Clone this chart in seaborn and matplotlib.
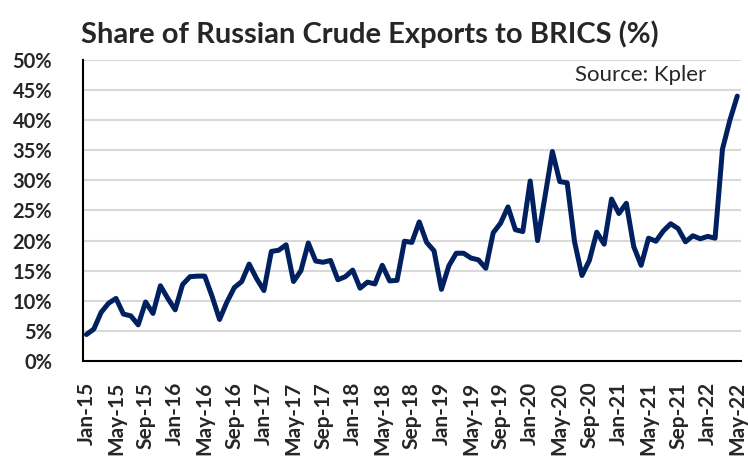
import numpy as np
import pandas as pd
import matplotlib
matplotlib.use("Agg")
import matplotlib.pyplot as plt
import seaborn as sns
from matplotlib.ticker import FixedLocator, FuncFormatter

# Monthly share of Russian crude exports going to BRICS (%), Jan-15 .. May-22
share_2015 = [4.4, 5.3, 8.1, 9.6, 10.4, 7.8, 7.5, 6.0, 9.8, 7.9, 12.5, 10.4]
share_2016 = [8.5, 12.7, 14.0, 14.1, 14.1, 10.7, 6.9, 9.8, 12.2, 13.2, 16.1, 13.7]
share_2017 = [11.7, 18.2, 18.4, 19.3, 13.2, 15.0, 19.6, 16.6, 16.4, 16.7, 13.5, 14.0]
share_2018 = [15.1, 12.1, 13.1, 12.8, 15.9, 13.3, 13.4, 19.9, 19.7, 23.1, 19.7, 18.3]
share_2019 = [11.9, 15.8, 17.9, 17.9, 17.1, 16.8, 15.4, 21.3, 22.9, 25.6, 21.8, 21.5]
share_2020 = [29.9, 20.0, 27.3, 34.8, 29.8, 29.6, 19.8, 14.2, 16.7, 21.4, 19.4, 26.9]
share_2021 = [24.5, 26.2, 19.0, 15.9, 20.4, 19.9, 21.6, 22.8, 22.0, 19.8, 20.8, 20.3]
share_2022 = [20.7, 20.4, 35.2, 40.0, 44.0]

months = pd.date_range("2015-01-01", "2022-05-01", freq="MS")
share = share_2015 + share_2016 + share_2017 + share_2018 + share_2019 + share_2020 + share_2021 + share_2022

df = pd.DataFrame({"idx": np.arange(len(months)),
                   "label": months.strftime("%b-%y"),
                   "share": share})

sns.set_style("white")
plt.rcParams["font.family"] = ["Lato", "DejaVu Sans"]

fig = plt.figure(figsize=(7.48, 4.58), dpi=100)
ax = fig.add_axes([0.1106, 0.2118, 0.8800, 0.6572])

sns.lineplot(data=df, x="idx", y="share", color="#002060", linewidth=3.6,
             ax=ax, solid_capstyle="round", solid_joinstyle="round")

ax.set_xlim(-0.5, len(df) - 0.5)
ax.set_ylim(0, 50)

# y axis: gridlines every 5%
ax.set_yticks(np.arange(0, 51, 5))
ax.yaxis.set_major_formatter(FuncFormatter(lambda v, _: f"{v:.0f}%"))
ax.grid(axis="y", color="#d9d9d9", linewidth=1.5)
ax.set_axisbelow(True)
ax.tick_params(axis="y", length=0, pad=22, labelsize=14.5)
for t in ax.get_yticklabels():
    t.set_fontweight("bold")

# x axis: labels every 4 months, tick marks on the category boundaries
label_pos = df["idx"][::4].tolist()
ax.xaxis.set_major_locator(FixedLocator(label_pos))
ax.set_xticklabels(df["label"][::4], rotation=90, fontsize=15, fontweight="bold")
ax.xaxis.set_minor_locator(FixedLocator([p - 0.5 for p in label_pos]))
ax.tick_params(axis="x", which="major", length=0, pad=15)
ax.tick_params(axis="x", which="minor", length=5, width=1.5, color="black", direction="out")

ax.set_xlabel("")
ax.set_ylabel("")

for side in ["top", "right"]:
    ax.spines[side].set_visible(False)
for side in ["left", "bottom"]:
    ax.spines[side].set_color("black")
    ax.spines[side].set_linewidth(1.5)

fig.text(0.108, 0.907, "Share of Russian Crude Exports to BRICS (%)",
         fontsize=21, fontweight="bold", ha="left", va="baseline")
ax.text(0.947, 0.95, "Source: Kpler", transform=ax.transAxes,
        fontsize=16, ha="right", va="center")

fig.savefig("out.png", dpi=100)
